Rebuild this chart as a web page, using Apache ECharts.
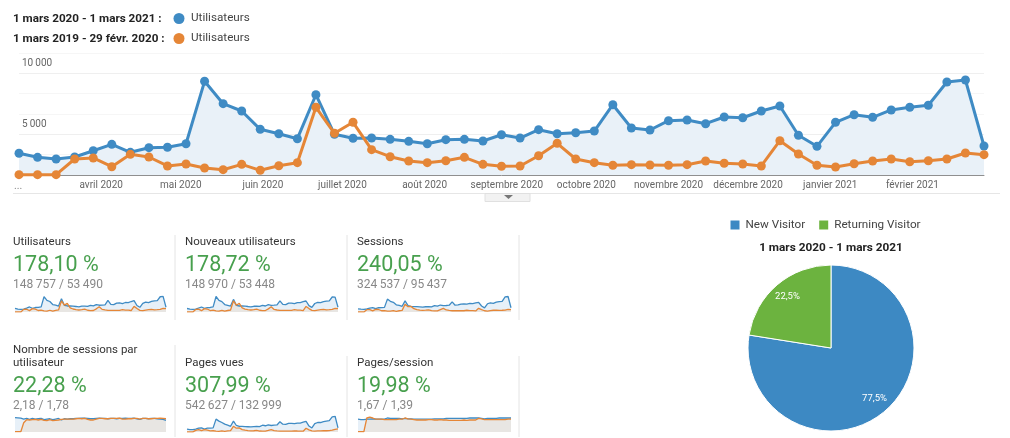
<!DOCTYPE html>
<html>
<head>
<meta charset="utf-8">
<style>
html, body { margin: 0; padding: 0; background: #fff; }
#chart { width: 1010px; height: 438px; }
</style>
<script src="https://cdn.jsdelivr.net/npm/echarts@6/dist/echarts.min.js"></script>
</head>
<body>
<div id="chart"></div>
<script>
var firstWeek = Date.UTC(2020, 2, 1);
var usersCurrent = [1780,1450,1310,1475,1990,2515,1860,2240,2270,2565,7680,5845,5245,3745,3385,2975,6580,3335,3010,3030,2925,2760,2565,2895,2925,2785,3300,3030,3715,3385,3465,3605,5760,3850,3690,4450,4510,4205,4755,4695,5245,5655,3255,2350,4320,4940,4730,5330,5550,5715,7625,7785,2375];
var usersPrevious = [30,30,30,1310,1395,680,1695,1475,740,900,575,435,875,385,760,1010,5550,3420,4320,2075,1500,1150,1010,1170,1450,875,715,740,1580,2600,1310,1010,795,845,820,795,845,1150,960,900,740,2810,1720,795,655,925,1150,1310,1090,1170,1310,1800,1665];
var monthStarts = [Date.UTC(2020,3,1),Date.UTC(2020,4,1),Date.UTC(2020,5,1),Date.UTC(2020,6,1),Date.UTC(2020,7,1),Date.UTC(2020,8,1),Date.UTC(2020,9,1),Date.UTC(2020,10,1),Date.UTC(2020,11,1),Date.UTC(2021,0,1),Date.UTC(2021,1,1)];
var monthLabels = ['avril 2020','mai 2020','juin 2020','juillet 2020','août 2020','septembre 2020','octobre 2020','novembre 2020','décembre 2020','janvier 2021','février 2021'];

var newUsersCurrent = [1750,1430,1300,1460,2000,2490,1840,2220,2260,2540,7750,5800,5200,3720,3360,2950,6300,3300,3000,3010,2900,2740,2550,2870,2900,2770,3280,3000,3650,3350,3420,3560,5600,3800,3650,4400,4450,4150,4700,4650,5150,5500,3200,2300,4250,4850,4700,5200,5400,5600,7500,7450,2350];
var newUsersPrevious = [30,30,30,1300,1400,670,1700,1480,730,900,570,430,870,380,750,1000,5600,3400,4350,2060,1490,1140,1000,1160,1440,870,710,730,1570,2580,1300,1000,790,840,810,790,840,1140,950,890,730,2790,1710,790,650,920,1140,1300,1080,1160,1300,1790,1650];
var sessionsCurrent = [3300,2900,2700,3100,4000,4500,3500,4400,4500,4800,13300,11000,10000,7400,6800,5900,11500,6500,5700,5600,5500,5300,5000,5400,5500,5300,6500,6000,7200,6500,6700,7000,10500,7000,7300,8200,8300,8200,8800,8700,9500,10000,6200,4300,8500,9500,9000,10200,10700,11000,15500,16000,4400];
var sessionsPrevious = [60,60,60,2400,2500,1200,2700,2600,1300,1500,1000,800,1500,700,1300,1700,8000,5500,5800,3400,2500,1900,1700,1900,2300,1400,1100,1200,2500,3800,2100,1600,1300,1300,1300,1300,1300,1800,1500,1400,1100,3800,2400,1300,1000,1400,1800,2000,1700,1800,2000,2700,2500];
var perUserCurrent = [2.35,2.3,2.25,2.1,2.2,2.05,2.2,2.1,2.15,2.2,2.0,2.1,2.15,2.0,2.1,2.2,1.95,2.15,2.1,2.15,2.15,2.2,2.2,2.25,2.25,2.2,2.15,2.15,2.2,2.25,2.2,2.2,2.15,2.2,2.2,2.15,2.2,2.2,2.25,2.2,2.2,2.25,2.15,2.05,2.2,2.2,2.15,2.2,2.2,2.15,2.1,2.05,1.9];
var perUserPrevious = [0.05,0.05,0.05,1.5,2.0,1.95,2.0,2.05,1.95,2.05,1.9,1.85,2.0,1.85,1.9,1.95,2.05,2.1,2.1,2.1,2.1,2.15,2.2,2.15,2.2,2.05,1.95,1.95,2.1,2.2,2.2,2.15,2.15,2.2,2.2,2.2,2.25,2.1,2.1,2.15,2.15,2.2,2.2,2.1,2.2,2.2,2.15,2.15,2.2,2.2,2.25,2.2,2.15];
var pageViewsCurrent = [5300,4500,4200,5200,7000,7500,5500,7000,7200,7600,23700,20000,17500,14500,12500,10500,20000,12000,10500,10300,10000,9700,9400,10000,10200,10000,12500,11500,13000,12000,12500,13000,19000,14500,14000,16000,16000,15500,16500,16500,18000,19500,11000,7500,15500,17500,17500,19000,20000,21000,28000,29000,7500];
var pageViewsPrevious = [100,100,100,3000,4500,2500,4500,3500,2200,2300,1700,1300,2000,1200,1900,2500,10500,7000,7500,4500,3300,2400,2100,2300,3000,1800,1500,1500,2800,4500,2500,2000,1600,1600,1500,1500,1600,2000,1800,1700,1500,7000,4000,2200,1500,1900,2200,2500,2300,2700,3500,5000,5800];
var perSessionCurrent = [1.6,1.55,1.55,1.6,1.6,1.65,1.6,1.6,1.6,1.6,1.75,1.7,1.7,1.7,1.7,1.65,1.7,1.65,1.65,1.6,1.6,1.6,1.6,1.6,1.6,1.6,1.65,1.65,1.65,1.65,1.7,1.7,1.7,1.7,1.7,1.7,1.7,1.7,1.75,1.75,1.75,1.75,1.7,1.65,1.7,1.7,1.7,1.7,1.75,1.75,1.75,1.75,1.75];
var perSessionPrevious = [0.05,0.05,0.05,1.75,1.85,1.75,1.6,1.6,1.6,1.55,1.55,1.55,1.55,1.55,1.6,1.6,1.75,1.65,1.6,1.55,1.5,1.5,1.5,1.5,1.55,1.55,1.5,1.5,1.55,1.5,1.5,1.45,1.45,1.45,1.45,1.45,1.5,1.45,1.5,1.5,1.5,1.7,1.65,1.55,1.55,1.55,1.55,1.55,1.55,1.55,1.55,1.6,1.6];

var visitorNames = ['New Visitor', 'Returning Visitor'];
var visitorShares = [77.5, 22.5];

var panelTitles = ['Utilisateurs', 'Nouveaux utilisateurs', 'Sessions', 'Nombre de sessions par\nutilisateur', 'Pages vues', 'Pages/session'];
var panelChanges = ['178,10 %', '178,72 %', '240,05 %', '22,28 %', '307,99 %', '19,98 %'];
var panelTotals = ['148\u2009757 / 53\u2009490', '148\u2009970 / 53\u2009448', '324\u2009537 / 95\u2009437', '2,18 / 1,78', '542\u2009627 / 132\u2009999', '1,67 / 1,39'];
var panelCurrent = [usersCurrent, newUsersCurrent, sessionsCurrent, perUserCurrent, pageViewsCurrent, perSessionCurrent];
var panelPrevious = [usersPrevious, newUsersPrevious, sessionsPrevious, perUserPrevious, pageViewsPrevious, perSessionPrevious];
var panelMax = [8000, 8000, 16500, 2.6, 29500, 2];

var BLUE = '#3f8bc4';
var ORANGE = '#e58637';
var FONT = 'Roboto';

var grids = [{ left: 19, width: 965, top: 53, height: 122 }];
var xAxes = [{
    type: 'value',
    min: firstWeek,
    max: firstWeek + 52 * 7 * 86400000,
    axisLine: { lineStyle: { color: '#8f8f8f', width: 1 } },
    axisTick: { show: false },
    splitLine: { show: false },
    axisLabel: {
        customValues: monthStarts,
        color: '#666',
        fontFamily: FONT,
        fontSize: 10,
        margin: 5,
        formatter: function (value) {
            return monthLabels[monthStarts.indexOf(value)];
        }
    }
}];
var yAxes = [{
    type: 'value',
    min: 0,
    max: 10000,
    interval: 10000 / 6,
    axisLine: { show: false },
    axisTick: { show: false },
    splitLine: { lineStyle: { color: ['#f6f6f6', '#f6f6f6', '#efefef'], width: 1 } },
    axisLabel: {
        customValues: [5000, 10000],
        inside: true,
        verticalAlign: 'top',
        padding: [5, 0, 0, 0],
        margin: 3,
        color: '#666',
        fontFamily: FONT,
        fontSize: 10,
        formatter: function (value) {
            return value == 10000 ? '10\u2009000' : '5\u2009000';
        }
    }
}];

function weekSeries(values) {
    var rows = [];
    for (var i = 0; i < values.length; i++) {
        rows.push([firstWeek + i * 7 * 86400000, values[i]]);
    }
    return rows;
}

var seriesList = [
    {
        name: 'current',
        type: 'line',
        data: weekSeries(usersCurrent),
        symbol: 'circle',
        symbolSize: 9,
        clip: false,
        lineStyle: { color: BLUE, width: 3 },
        itemStyle: { color: BLUE },
        areaStyle: { color: '#e9f1f8', opacity: 1 }
    },
    {
        name: 'previous',
        type: 'line',
        data: weekSeries(usersPrevious),
        symbol: 'circle',
        symbolSize: 9,
        clip: false,
        lineStyle: { color: ORANGE, width: 3 },
        itemStyle: { color: ORANGE }
    }
];

var texts = [];
function addText(x, y, text, size, color, weight, align) {
    texts.push({
        type: 'text',
        x: x,
        y: y,
        silent: true,
        style: {
            text: text,
            fill: color,
            font: (weight || 'normal') + ' ' + size + 'px ' + FONT,
            align: align || 'left',
            verticalAlign: 'middle'
        }
    });
}
function addLine(x1, y1, x2, y2, color) {
    texts.push({
        type: 'line',
        silent: true,
        shape: { x1: x1, y1: y1, x2: x2, y2: y2 },
        style: { stroke: color, lineWidth: 1 }
    });
}

addText(13, 19, '1 mars 2020 - 1 mars 2021 :', 11.7, '#222', 'bold');
addText(13, 39, '1 mars 2019 - 29 févr. 2020 :', 11.7, '#222', 'bold');
addText(14, 186, '...', 10.5, '#888');
addText(831, 248, '1 mars 2020 - 1 mars 2021', 11.8, '#222', 'bold', 'center');

// bande sous le graphique avec la petite languette
addLine(13, 193.5, 1000, 193.5, '#e6e6e6');
texts.push({
    type: 'rect',
    silent: true,
    shape: { x: 485, y: 193.5, width: 45, height: 8 },
    style: { fill: '#f2f2f2', stroke: '#e0e0e0', lineWidth: 1 }
});
texts.push({
    type: 'polygon',
    silent: true,
    shape: { points: [[504, 195], [513, 195], [508.5, 199]] },
    style: { fill: '#777' }
});

var panelX = [13, 185, 357];
var sparkX = [[15, 166], [187, 338], [358, 511]];
addLine(175, 235, 175, 320, '#e4e4e4');
addLine(347, 235, 347, 320, '#e4e4e4');
addLine(519, 235, 519, 320, '#e4e4e4');
addLine(175, 345, 175, 437, '#e4e4e4');
addLine(347, 356, 347, 437, '#e4e4e4');
addLine(519, 356, 519, 437, '#e4e4e4');

for (var p = 0; p < 6; p++) {
    var col = p % 3;
    var row = p < 3 ? 0 : 1;
    var titleLines = panelTitles[p].split('\n');
    if (titleLines.length > 1) {
        addText(panelX[col], 350, titleLines[0], 11.5, '#333');
        addText(panelX[col], 363, titleLines[1], 11.5, '#333');
    } else {
        addText(panelX[col], row == 0 ? 242 : 363, titleLines[0], 11.5, '#333');
    }
    addText(panelX[col], row == 0 ? 265.5 : 386.5, panelChanges[p], 21.5, '#48a04e');
    addText(panelX[col], row == 0 ? 285 : 405.5, panelTotals[p], 12, '#888');

    var idx = p + 1;
    grids.push({
        left: sparkX[col][0],
        width: sparkX[col][1] - sparkX[col][0],
        top: row == 0 ? 296 : 416,
        height: 16
    });
    xAxes.push({
        type: 'category',
        gridIndex: idx,
        boundaryGap: false,
        data: panelCurrent[p].map(function (v, i) { return i; }),
        show: false
    });
    yAxes.push({ type: 'value', gridIndex: idx, min: 0, max: panelMax[p], show: false });
    seriesList.push({
        type: 'line',
        xAxisIndex: idx,
        yAxisIndex: idx,
        data: panelCurrent[p],
        symbol: 'none',
        lineStyle: { color: BLUE, width: 1.3 },
        areaStyle: { color: '#e7f0f8', opacity: 1 }
    });
    seriesList.push({
        type: 'line',
        xAxisIndex: idx,
        yAxisIndex: idx,
        data: panelPrevious[p],
        symbol: 'none',
        lineStyle: { color: ORANGE, width: 1.3 },
        areaStyle: { color: '#e8e6e3', opacity: 1 }
    });
}

var pieData = [];
for (var i = 0; i < visitorNames.length; i++) {
    pieData.push({ name: visitorNames[i], value: visitorShares[i] });
}
seriesList.push({
    type: 'pie',
    center: [831, 348],
    radius: [0, 83],
    startAngle: 90,
    data: pieData,
    label: { show: false },
    labelLine: { show: false },
    itemStyle: { borderColor: '#fff', borderWidth: 1 },
    color: ['#3d89c3', '#6cb33f']
});
// anneau transparent : place les pourcentages vers l'exterieur des parts
seriesList.push({
    type: 'pie',
    center: [831, 348],
    radius: [45, 83],
    startAngle: 90,
    silent: true,
    data: pieData,
    itemStyle: { color: 'transparent' },
    label: {
        show: true,
        position: 'inside',
        color: '#fff',
        fontFamily: FONT,
        fontSize: 9.5,
        formatter: function (item) {
            return item.value.toFixed(1).replace('.', ',') + '%';
        }
    },
    labelLine: { show: false }
});

function topLegend(name, topPx) {
    return {
        data: [name],
        left: 173.5,
        top: topPx,
        padding: 0,
        icon: 'circle',
        itemWidth: 11,
        itemHeight: 11,
        textStyle: { color: '#444', fontFamily: FONT, fontSize: 11.7, padding: [0, 0, 0, 1.5] },
        formatter: function () { return 'Utilisateurs'; }
    };
}

var chart = echarts.init(document.getElementById('chart'));
chart.setOption({
    animation: false,
    backgroundColor: '#fff',
    grid: grids,
    xAxis: xAxes,
    yAxis: yAxes,
    series: seriesList,
    graphic: texts,
    legend: [
        topLegend('current', 12.5),
        topLegend('previous', 32.5),
        {
            data: visitorNames,
            left: 728.5,
            top: 218.5,
            padding: 0,
            icon: 'rect',
            itemWidth: 11,
            itemHeight: 11,
            itemGap: 12,
            textStyle: { color: '#444', fontFamily: FONT, fontSize: 11.7 }
        }
    ]
});
</script>
</body>
</html>
